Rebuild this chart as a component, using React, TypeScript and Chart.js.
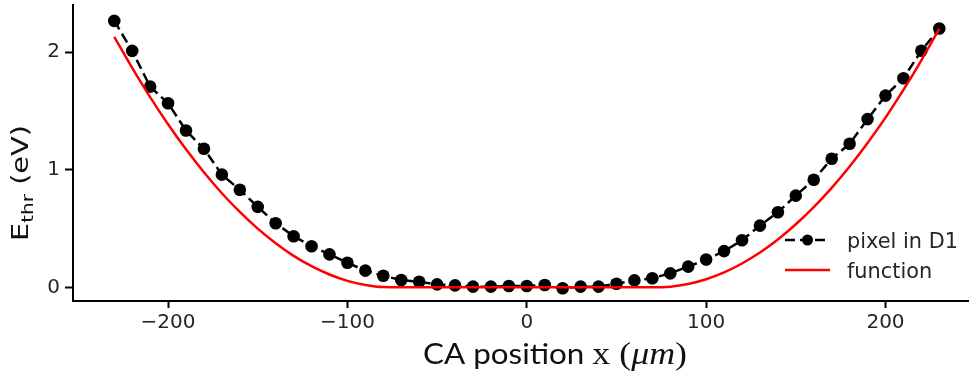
import React, { useEffect, useRef } from "react";
import { Chart, registerables } from "chart.js";

Chart.register(...registerables);

// ---- data ----
const positions = [
  -230, -220, -210, -200, -190, -180, -170, -160, -150, -140, -130, -120, -110, -100, -90, -80,
  -70, -60, -50, -40, -30, -20, -10, 0, 10, 20, 30, 40, 50, 60, 70,
  80, 90, 100, 110, 120, 130, 140, 150, 160, 170, 180, 190, 200, 210, 220, 230,
];
const pixelD1 = [
  2.265, 2.01, 1.706, 1.565, 1.333, 1.178, 0.958, 0.83, 0.684, 0.545, 0.435, 0.35, 0.28, 0.209, 0.142, 0.098,
  0.062, 0.048, 0.025, 0.017, 0.006, 0.006, 0.011, 0.011, 0.02, -0.008, 0.006, 0.006, 0.031, 0.059, 0.078,
  0.119, 0.176, 0.237, 0.308, 0.4, 0.525, 0.638, 0.78, 0.915, 1.093, 1.22, 1.43, 1.63, 1.777, 2.011, 2.2,
];
const functionValues = [
  2.13, 1.865, 1.617, 1.386, 1.173, 0.978, 0.8, 0.641, 0.499, 0.375, 0.268, 0.18, 0.109, 0.055, 0.02, 0.002,
  0, 0, 0, 0, 0, 0, 0, 0, 0, 0, 0, 0, 0, 0, 0,
  0.006, 0.029, 0.069, 0.127, 0.203, 0.296, 0.407, 0.536, 0.682, 0.846, 1.028, 1.227, 1.443, 1.678, 1.93, 2.2,
];
const xTicks = [-200, -100, 0, 100, 200];
const yTicks = [0, 1, 2];
const seriesNames = ["pixel in D1", "function"];
const xTitleParts = ["CA position ", "x (", "μm", ")"];
const yTitleParts = ["E", "thr", " (eV)"];

const TEXT = "#262626";

const titlePlugin = {
  id: "customTitles",
  afterDraw(chart: any) {
    const ctx = chart.ctx as CanvasRenderingContext2D;

    // X title
    ctx.save();
    const xFonts = [
      "28px Lato",
      "32px 'Liberation Serif'",
      "italic 32px 'Liberation Serif'",
      "32px 'Liberation Serif'",
    ];
    let widths = xTitleParts.map((t, i) => {
      ctx.font = xFonts[i];
      return ctx.measureText(t).width;
    });
    let total = widths.reduce((a, b) => a + b, 0);
    ctx.translate(423, 364);
    ctx.scale(264 / total, 1);
    ctx.fillStyle = "#111";
    ctx.textBaseline = "alphabetic";
    ctx.textAlign = "left";
    let cx = 0;
    xTitleParts.forEach((t, i) => {
      ctx.font = xFonts[i];
      ctx.fillText(t, cx, 0);
      cx += widths[i];
    });
    ctx.restore();

    // Y title
    ctx.save();
    const yFonts = ["23px 'DejaVu Sans'", "16px 'DejaVu Sans'", "23px 'DejaVu Sans'"];
    const yOff = [0, 5, 0];
    widths = yTitleParts.map((t, i) => {
      ctx.font = yFonts[i];
      return ctx.measureText(t).width;
    });
    total = widths.reduce((a, b) => a + b, 0);
    ctx.translate(28, 241);
    ctx.rotate(-Math.PI / 2);
    ctx.scale(116 / total, 1);
    ctx.fillStyle = "#111";
    ctx.textBaseline = "alphabetic";
    ctx.textAlign = "left";
    cx = 0;
    yTitleParts.forEach((t, i) => {
      ctx.font = yFonts[i];
      ctx.fillText(t, cx, yOff[i]);
      cx += widths[i];
    });
    ctx.restore();

    // Legend
    ctx.save();
    ctx.lineWidth = 2.5;
    ctx.strokeStyle = "#000";
    ctx.setLineDash([10, 5]);
    ctx.beginPath();
    ctx.moveTo(785, 240);
    ctx.lineTo(830, 240);
    ctx.stroke();
    ctx.setLineDash([]);
    ctx.fillStyle = "#000";
    ctx.beginPath();
    ctx.arc(807.5, 240, 5.5, 0, Math.PI * 2);
    ctx.fill();
    ctx.strokeStyle = "#ff0000";
    ctx.beginPath();
    ctx.moveTo(785, 270);
    ctx.lineTo(830, 270);
    ctx.stroke();

    ctx.fillStyle = TEXT;
    ctx.font = "21px 'DejaVu Sans'";
    ctx.textBaseline = "alphabetic";
    const w0 = ctx.measureText(seriesNames[0]).width;
    ctx.save();
    ctx.translate(847, 248);
    ctx.scale(111 / w0, 1.05);
    ctx.fillText(seriesNames[0], 0, 0);
    ctx.restore();
    ctx.save();
    ctx.translate(847, 278);
    ctx.scale(111 / w0, 1.05);
    ctx.fillText(seriesNames[1], 0, 0);
    ctx.restore();
    ctx.restore();
  },
};

export default function App() {
  const ref = useRef<HTMLCanvasElement | null>(null);

  useEffect(() => {
    document.body.style.margin = "0";
    const canvas = ref.current;
    if (!canvas) return;
    const chart = new Chart(canvas, {
      type: "line",
      data: {
        datasets: [
          {
            label: seriesNames[1],
            data: positions.map((x, i) => ({ x, y: functionValues[i] })),
            borderColor: "#ff0000",
            borderWidth: 2.5,
            pointRadius: 0,
            cubicInterpolationMode: "monotone",
            fill: false,
            order: 0,
          },
          {
            label: seriesNames[0],
            data: positions.map((x, i) => ({ x, y: pixelD1[i] })),
            borderColor: "#000000",
            borderWidth: 2.5,
            borderDash: [10, 5],
            pointRadius: 6.3,
            pointBackgroundColor: "#000000",
            pointBorderWidth: 0,
            tension: 0,
            fill: false,
            order: 1,
          },
        ],
      },
      options: {
        animation: false,
        responsive: false,
        devicePixelRatio: 1,
        layout: { autoPadding: false, padding: { top: 5, right: 3, left: 0, bottom: 0 } },
        plugins: {
          legend: { display: false },
          tooltip: { enabled: false },
          title: { display: false },
        },
        scales: {
          x: {
            type: "linear",
            min: -253,
            max: 246,
            afterBuildTicks: (scale: any) => {
              scale.ticks = xTicks.map((v) => ({ value: v }));
            },
            afterFit: (scale: any) => {
              scale.height = 80;
              scale.paddingLeft = 0;
              scale.paddingRight = 0;
              scale.paddingTop = 0;
              scale.paddingBottom = 0;
            },
            grid: {
              display: true,
              drawOnChartArea: false,
              drawTicks: true,
              tickLength: 7,
              tickWidth: 2,
              tickColor: "#000",
            },
            border: { display: true, color: "#000", width: 2 },
            ticks: {
              padding: 3,
              color: TEXT,
              font: { family: "'DejaVu Sans'", size: 20 },
              maxRotation: 0,
              autoSkip: false,
              callback: (v: any) => String(v).replace("-", "\u2212"),
            },
          },
          y: {
            type: "linear",
            min: -0.116,
            max: 2.4,
            afterBuildTicks: (scale: any) => {
              scale.ticks = yTicks.map((v) => ({ value: v }));
            },
            afterFit: (scale: any) => {
              scale.width = 73;
              scale.paddingLeft = 0;
              scale.paddingRight = 0;
              scale.paddingTop = 0;
              scale.paddingBottom = 0;
            },
            grid: {
              display: true,
              drawOnChartArea: false,
              drawTicks: true,
              tickLength: 8,
              tickWidth: 2,
              tickColor: "#000",
            },
            border: { display: true, color: "#000", width: 2 },
            ticks: {
              padding: 5,
              color: TEXT,
              font: { family: "'DejaVu Sans'", size: 20 },
              autoSkip: false,
              callback: (v: any) => String(v),
            },
          },
        },
      },
      plugins: [titlePlugin],
    });
    return () => chart.destroy();
  }, []);

  return (
    <div style={{ width: 971, height: 381, background: "#fff" }}>
      <canvas ref={ref} width={971} height={381} style={{ display: "block" }} />
    </div>
  );
}
